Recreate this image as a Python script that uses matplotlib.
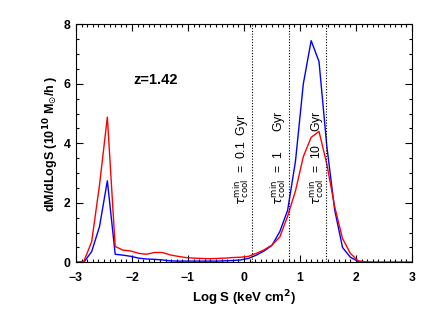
import matplotlib
matplotlib.use("Agg")
import matplotlib.pyplot as plt
from matplotlib.ticker import MultipleLocator

# binned entropy distribution (log S, keV cm^2)
logS = [-3.00, -2.86, -2.72, -2.58, -2.44, -2.30, -2.16, -2.02, -1.88, -1.74,
        -1.60, -1.46, -1.32, -1.18, -1.04, -0.90, -0.76, -0.62, -0.48, -0.34,
        -0.20, -0.06, 0.08, 0.22, 0.36, 0.50, 0.64, 0.78, 0.92, 1.06,
        1.20, 1.34, 1.48, 1.62, 1.76, 1.90, 2.04, 2.18, 2.32, 2.46,
        2.60, 2.74, 2.88, 3.00]
dm_blue = [0.0, 0.0, 0.36, 1.2, 2.74, 0.27, 0.24, 0.2, 0.14, 0.11,
           0.1, 0.08, 0.05, 0.04, 0.04, 0.04, 0.04, 0.04, 0.04, 0.05,
           0.06, 0.08, 0.13, 0.24, 0.38, 0.57, 1.03, 1.75, 3.4, 6.0,
           7.45, 6.75, 3.9, 1.76, 0.5, 0.17, 0.03, 0.0, 0.0, 0.0,
           0.0, 0.0, 0.0, 0.0]
dm_red = [0.0, 0.03, 0.69, 2.6, 4.88, 0.53, 0.41, 0.38, 0.3, 0.27,
          0.33, 0.33, 0.25, 0.2, 0.16, 0.14, 0.13, 0.12, 0.13, 0.14,
          0.16, 0.17, 0.2, 0.3, 0.42, 0.58, 0.85, 1.55, 2.4, 3.55,
          4.2, 4.4, 3.3, 1.87, 0.8, 0.3, 0.05, 0.01, 0.0, 0.0,
          0.0, 0.0, 0.0, 0.0]

# minimum cooling-time thresholds
tcool_x = [0.15, 0.80, 1.47]
tcool_lab = [r"$\tau_{\rm cool}^{\rm min}$  =  0.1  Gyr",
             r"$\tau_{\rm cool}^{\rm min}$  =  1      Gyr",
             r"$\tau_{\rm cool}^{\rm min}$  =  10    Gyr"]
lab_x = [-0.05, 0.61, 1.29]

plt.rcParams['font.family'] = ['Liberation Sans', 'DejaVu Sans']

fig = plt.figure(figsize=(4.35, 3.11), dpi=100)
ax = fig.add_axes([0.1747, 0.1566, 0.7723, 0.7652])

ax.plot(logS, dm_blue, color='blue', lw=1.0)
ax.plot(logS, dm_red, color='red', lw=1.0)

for xv in tcool_x:
    ax.axvline(xv, color='black', ls=(0, (1, 1.5)), lw=0.8)
for xv, s in zip(lab_x, tcool_lab):
    ax.text(xv, 1.93, s, rotation=90, ha='center', va='bottom', fontsize=8.8)

ax.text(-1.98, 6.14, "z=1.42", fontsize=10.5, fontweight='bold', va='center')

ax.set_xlim(-3, 3)
ax.set_ylim(0, 8)
ax.xaxis.set_major_locator(MultipleLocator(1))
ax.xaxis.set_minor_locator(MultipleLocator(0.1))
ax.yaxis.set_major_locator(MultipleLocator(2))
ax.yaxis.set_minor_locator(MultipleLocator(0.5))
ax.tick_params(which='both', direction='in', top=True, right=True,
               labelsize=8.8, width=0.8)
ax.tick_params(which='major', length=5)
ax.tick_params(which='minor', length=2.5)
ax.tick_params(axis='x', pad=7)
ax.tick_params(axis='y', pad=4)
for lab in ax.get_xticklabels() + ax.get_yticklabels():
    lab.set_fontweight('bold')
for sp in ax.spines.values():
    sp.set_linewidth(0.8)

ax.set_xlabel(r"Log S (keV cm$^{\bf 2}$)", fontsize=9.5, fontweight='bold',
              labelpad=3)
ax.set_ylabel(r"dM/dLogS (10$^{\bf 10}$ M$_{\odot}$/h )", fontsize=9,
              fontweight='bold', labelpad=2)

fig.savefig("out.png", dpi=100)
